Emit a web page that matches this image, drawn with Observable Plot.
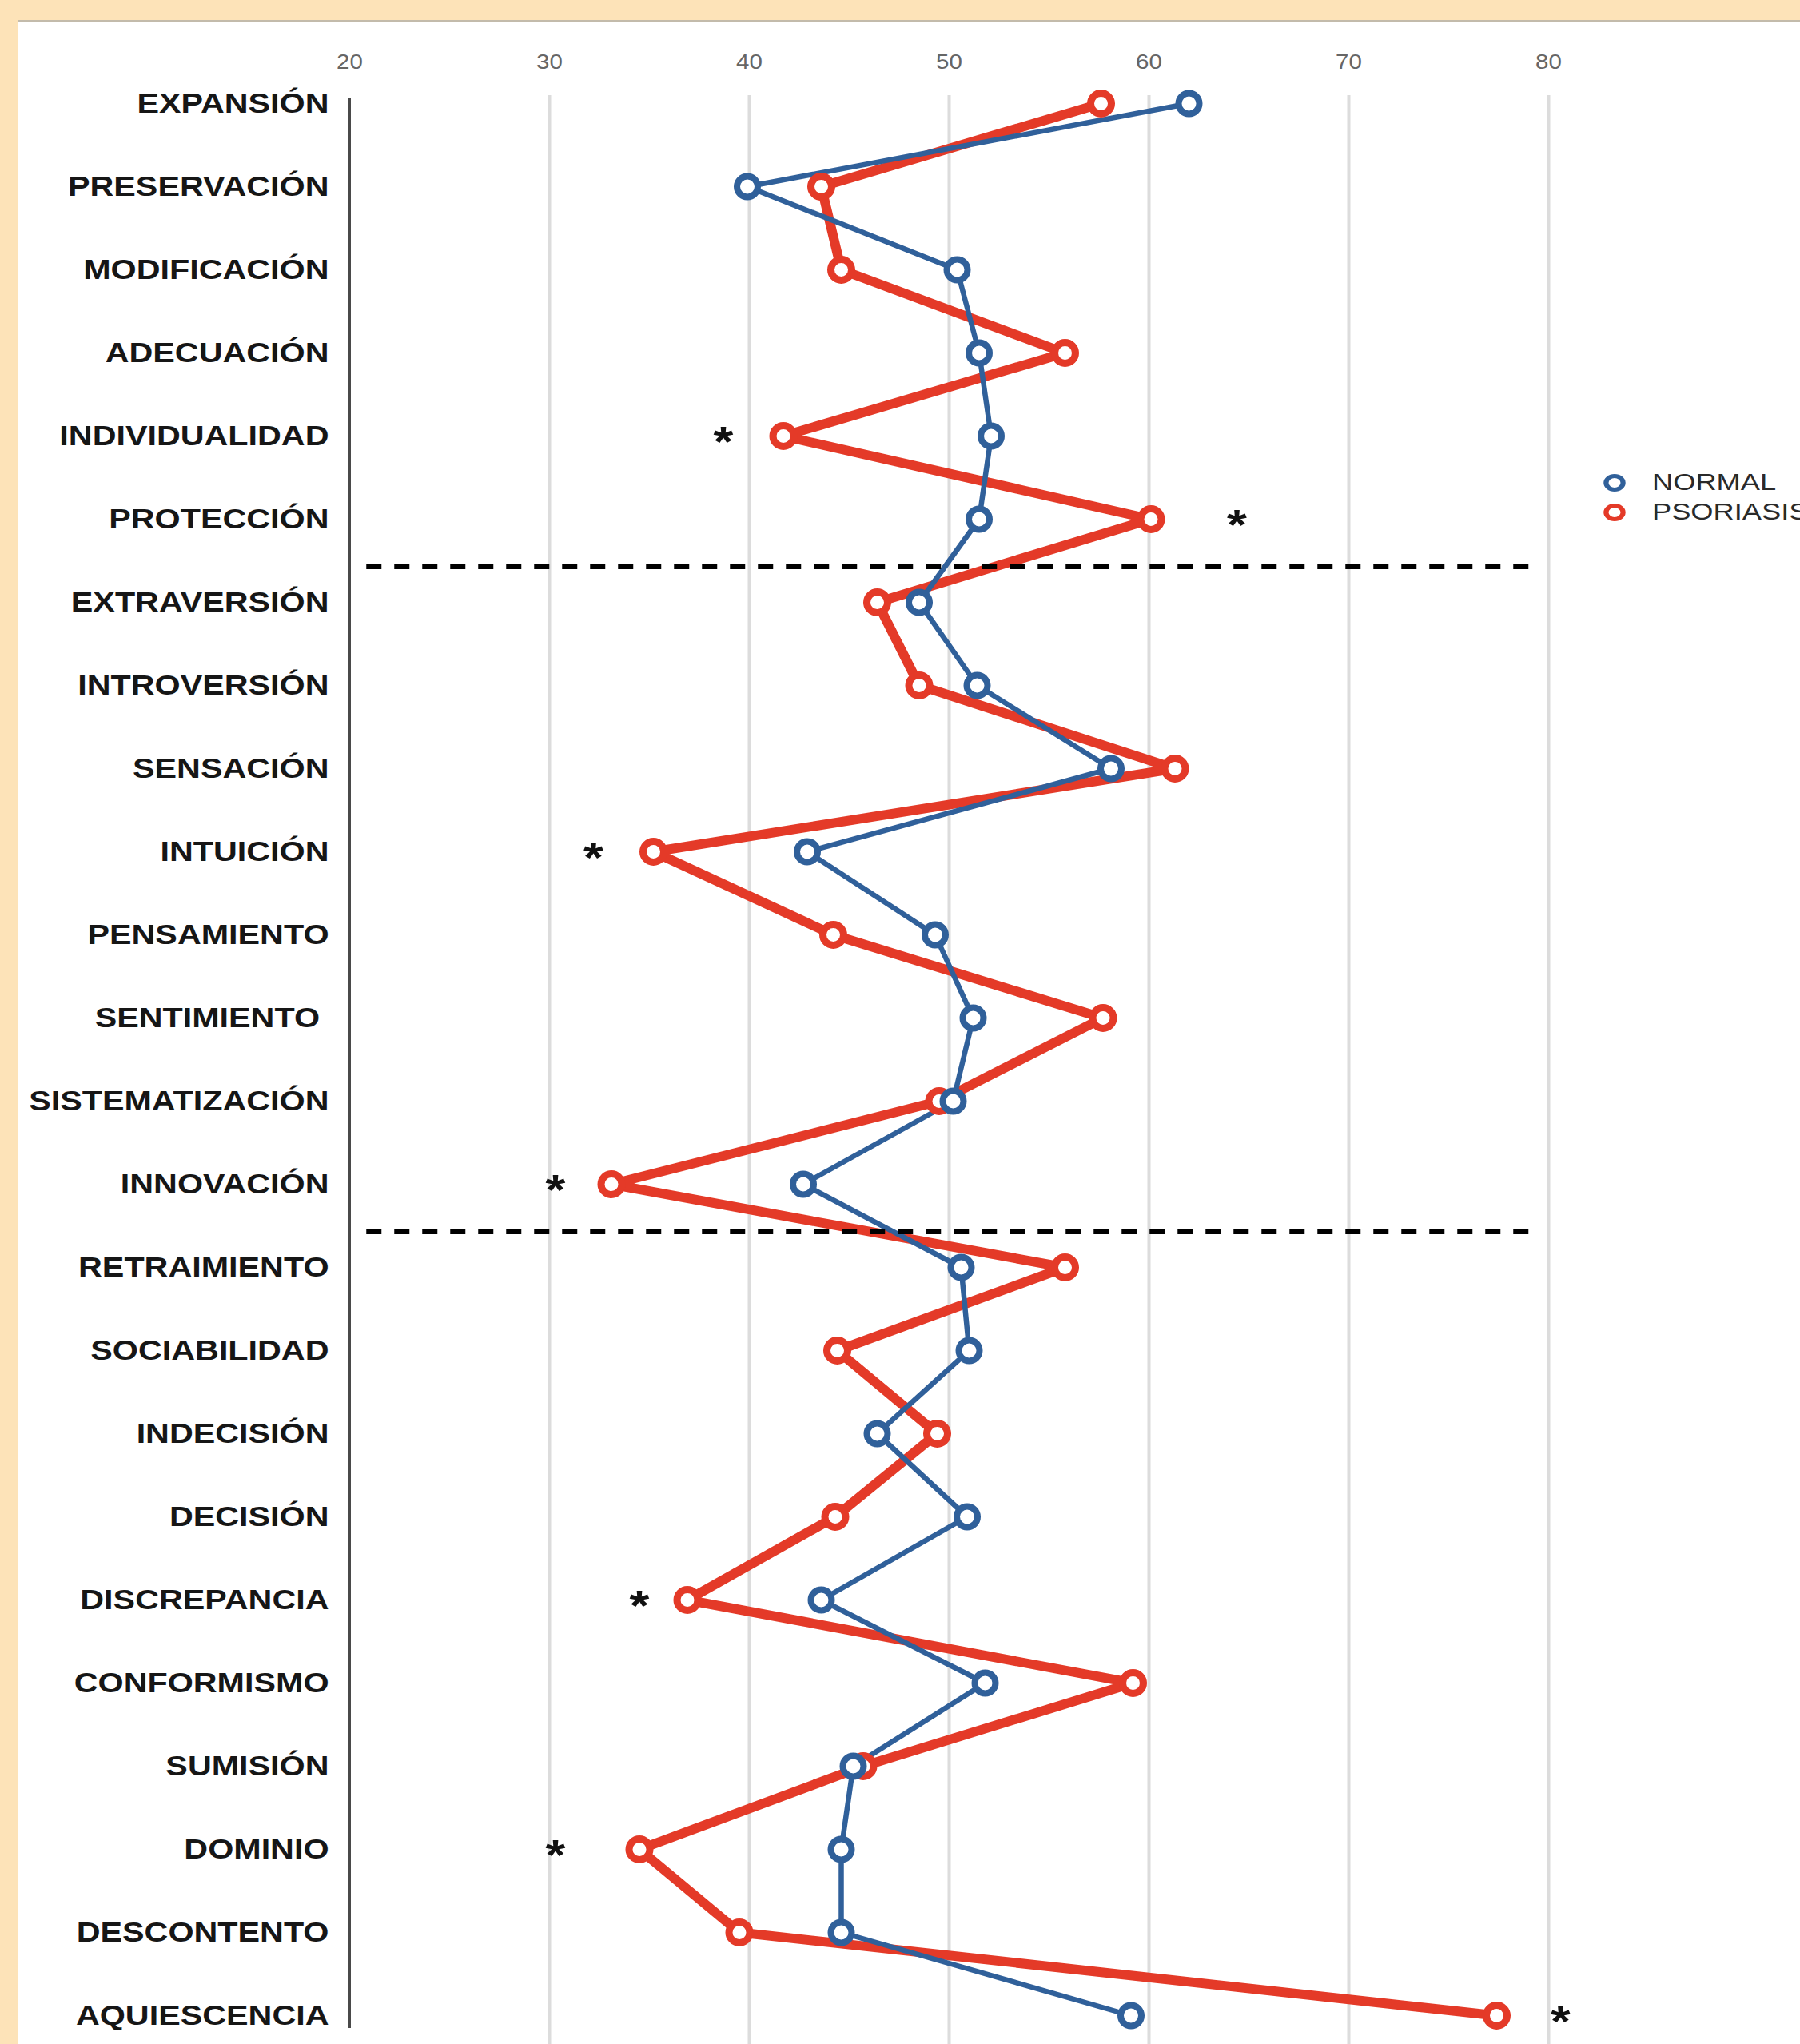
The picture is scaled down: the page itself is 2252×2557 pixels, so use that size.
<!DOCTYPE html>
<html>
<head>
<meta charset="utf-8">
<script src="https://cdn.jsdelivr.net/npm/d3@7"></script>
<script src="https://cdn.jsdelivr.net/npm/@observablehq/plot@0.6"></script>
<style>
  html, body { margin: 0; padding: 0; }
  body { width: 2252px; height: 2557px; position: relative; overflow: hidden; background: #fde3b8; font-family: "Liberation Sans", Arial, sans-serif; }
  #panel { position: absolute; left: 23px; top: 25px; right: 0; bottom: 0; background: #ffffff; border-top: 3px solid #c3bbab; }
  #chart { position: absolute; left: 0; top: 0; }
  #legend { position: absolute; left: 0; top: 0; }
  .leg-item { position: absolute; display: block; }
  .leg-text { position: absolute; font-size: 29px; color: #2a2a2a; line-height: 1; transform: scaleX(1.25); transform-origin: left center; white-space: nowrap; }
</style>
</head>
<body>
<div id="panel"></div>
<div id="chart"></div>
<div id="legend"></div>
<script>
// ---- data ----
const categories = ["EXPANSIÓN", "PRESERVACIÓN", "MODIFICACIÓN", "ADECUACIÓN", "INDIVIDUALIDAD", "PROTECCIÓN",
  "EXTRAVERSIÓN", "INTROVERSIÓN", "SENSACIÓN", "INTUICIÓN", "PENSAMIENTO", "SENTIMIENTO\u00A0",
  "SISTEMATIZACIÓN", "INNOVACIÓN", "RETRAIMIENTO", "SOCIABILIDAD", "INDECISIÓN", "DECISIÓN",
  "DISCREPANCIA", "CONFORMISMO", "SUMISIÓN", "DOMINIO", "DESCONTENTO", "AQUIESCENCIA"];
const normalValues =    [62.0, 39.9, 50.4, 51.5, 52.1, 51.5, 48.5, 51.4, 58.1, 42.9, 49.3, 51.2,
                         50.2, 42.7, 50.6, 51.0, 46.4, 50.9, 43.6, 51.8, 45.2, 44.6, 44.6, 59.1];
const psoriasisValues = [57.6, 43.6, 44.6, 55.8, 41.7, 60.1, 46.4, 48.5, 61.3, 35.2, 44.2, 57.7,
                         49.5, 33.1, 55.8, 44.4, 49.4, 44.3, 36.9, 59.2, 45.7, 34.5, 39.5, 77.4];
const seriesNames = ["NORMAL", "PSORIASIS"];
const starCategories = ["INDIVIDUALIDAD", "PROTECCIÓN", "INTUICIÓN", "INNOVACIÓN", "DISCREPANCIA", "DOMINIO", "AQUIESCENCIA"];
const starValues = [38.7, 64.4, 32.2, 30.3, 34.5, 30.3, 80.6];
const xTicks = [20, 30, 40, 50, 60, 70, 80];
const separatorsAfter = ["PROTECCIÓN", "INNOVACIÓN"];
const separatorSpan = [20.85, 79.2];

// ---- styles ----
const BLUE = "#30609a";
const RED = "#e43a28";
const TEXT_STRETCH = 1.18;

const rows = categories.map((c, i) => ({category: c, normal: normalValues[i], psoriasis: psoriasisValues[i]}));
const stars = starCategories.map((c, i) => ({category: c, x: starValues[i]}));
const seps = separatorsAfter.map(c => ({category: c}));

const chart = Plot.plot({
  width: 2252,
  height: 2557,
  marginLeft: 437,
  marginRight: 315,
  marginTop: 121,
  marginBottom: 29,
  style: {fontFamily: "'Liberation Sans', Arial, sans-serif", background: "transparent", overflow: "visible"},
  x: {domain: [20, 80], range: [437, 1937], axis: null},
  y: {type: "point", domain: categories, padding: 0, range: [121, 2528], axis: null},
  marks: [
    Plot.ruleX(xTicks.slice(1), {stroke: "#dcdcdc", strokeWidth: 4, insetTop: -2, insetBottom: -29}),
    Plot.ruleX(xTicks.slice(0, 1), {stroke: "#4a4a4a", strokeWidth: 3, insetTop: 2, insetBottom: -9}),
    Plot.axisX({anchor: "top", ticks: xTicks, tickSize: 0, tickPadding: 36, fontSize: 25, fill: "#666", label: null}),
    Plot.axisY({anchor: "left", tickSize: 0, tickPadding: 26, fontSize: 35, fontWeight: "bold", fill: "#161616", label: null}),
    Plot.line(rows, {x: "psoriasis", y: "category", stroke: RED, strokeWidth: 12, strokeLinejoin: "round"}),
    Plot.line(rows, {x: "normal", y: "category", stroke: BLUE, strokeWidth: 6.5, strokeLinejoin: "round"}),
    Plot.dot(rows, {x: "psoriasis", y: "category", r: 13, fill: "white", stroke: RED, strokeWidth: 9}),
    Plot.dot(rows, {x: "normal", y: "category", r: 13, fill: "white", stroke: BLUE, strokeWidth: 8}),
    Plot.ruleY(seps, {y: "category", x1: separatorSpan[0], x2: separatorSpan[1], dy: 59, stroke: "#000", strokeWidth: 7, strokeDasharray: "19,16"}),
    Plot.text(stars, {x: "x", y: "category", text: () => "*", fontSize: 54, fontWeight: "bold", fill: "#111", dy: 8})
  ]
});
document.getElementById("chart").appendChild(chart);

// horizontal stretch of the text to match the reference typography
chart.querySelectorAll("text").forEach(t => {
  const b = t.getBBox();
  const anchor = getComputedStyle(t).textAnchor;
  const ax = anchor === "end" ? b.x + b.width : anchor === "middle" ? b.x + b.width / 2 : b.x;
  const prev = t.getAttribute("transform") || "";
  t.setAttribute("transform", `${prev} translate(${ax},0) scale(${TEXT_STRETCH},1) translate(${-ax},0)`);
});

// legend (right side)
const legend = document.getElementById("legend");
const legendColors = [BLUE, RED];
seriesNames.forEach((name, i) => {
  const cy = 604 + i * 37;
  const ns = "http://www.w3.org/2000/svg";
  const s = document.createElementNS(ns, "svg");
  s.setAttribute("width", 34); s.setAttribute("height", 30);
  s.setAttribute("class", "leg-item");
  s.style.left = (2020 - 17) + "px"; s.style.top = (cy - 15) + "px";
  const c = document.createElementNS(ns, "circle");
  c.setAttribute("cx", 17); c.setAttribute("cy", 15); c.setAttribute("r", 8.5);
  c.setAttribute("fill", "white"); c.setAttribute("stroke", legendColors[i]); c.setAttribute("stroke-width", 5);
  c.setAttribute("transform", "translate(17,0) scale(1.25,1) translate(-17,0)");
  s.appendChild(c);
  legend.appendChild(s);
  const d = document.createElement("div");
  d.className = "leg-text";
  d.textContent = name;
  d.style.left = "2067px"; d.style.top = (cy - 15) + "px";
  legend.appendChild(d);
});
</script>
</body>
</html>
